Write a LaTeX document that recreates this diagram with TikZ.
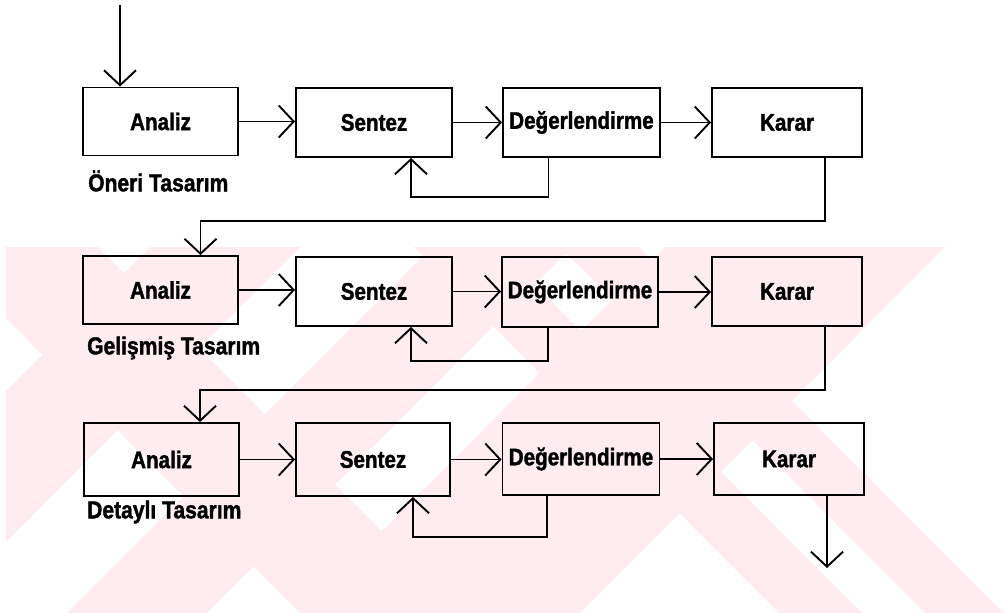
\documentclass[tikz,border=0pt]{standalone}
\usepackage{fontspec}
\setmainfont{Liberation Sans}
\newfontfamily\dfont{Liberation Sans}[UprightFont={* Bold}, FakeStretch=0.86, FakeBold=1.5]
\usetikzlibrary{arrows.meta,calc}
\definecolor{wm}{RGB}{254,236,240}
\begin{document}
\begin{tikzpicture}[x=1pt,y=-1pt,
  box/.style={draw, line width=1.9pt, inner sep=0pt, font=\dfont\fontsize{24}{26}\selectfont, minimum width=155pt, minimum height=69pt},
  arr/.style={line width=1.8pt, -{Straight Barb[length=15pt,width=32pt,line width=1.9pt]}},
  lbl/.style={anchor=west, inner sep=0pt, font=\dfont\fontsize{24.5}{26}\selectfont},
  band/.style={fill=wm}]
\useasboundingbox (0,0) rectangle (1004,613);
% watermark
\begin{scope}
\clip (6,247) rectangle (1004,613);
\fill[band] (-65,247) -- (98,247) -- (463,613) -- (300,613) -- cycle;
\fill[band] (150,247) -- (300,247) -- (-65,613) -- (-215,613) -- cycle;
\fill[band] (432,247) -- (572,247) -- (207,613) -- (67,613) -- cycle;
\fill[band] (665,247) -- (945,247) -- (580,613) -- (300,613) -- cycle;
\fill[band] (414,247) -- (497,247) -- (862,613) -- (779,613) -- cycle;
\fill[band] (560,247) -- (639,247) -- (1004,613) -- (925,613) -- cycle;
\end{scope}
% row 1
\node[box, minimum width=155pt, minimum height=68pt] (a1) at (160.5,121.5) {Analiz};
\node[box, minimum width=156pt] (s1) at (374,122.5) {Sentez};
\node[box, minimum width=157pt] (d1) at (581.5,122.5) {Değerlendirme};
\node[box, minimum width=150pt] (k1) at (787,122.5) {Karar};
% row 2
\node[box, minimum width=155pt, minimum height=68pt] (a2) at (160.5,290) {Analiz};
\node[box, minimum width=156pt] (s2) at (374,291.5) {Sentez};
\node[box, minimum width=156pt, minimum height=70pt] (d2) at (580,292) {Değerlendirme};
\node[box, minimum width=150pt] (k2) at (787,291.5) {Karar};
% row 3
\node[box, minimum width=155pt, minimum height=73pt] (a3) at (161.5,459.5) {Analiz};
\node[box, minimum width=154pt, minimum height=73pt] (s3) at (373,459.5) {Sentez};
\node[box, minimum width=157pt, minimum height=72pt] (d3) at (581,459) {Değerlendirme};
\node[box, minimum width=150pt, minimum height=72pt] (k3) at (789,459) {Karar};
% labels
\node[lbl] (l1) at (88,181) {Öneri Tasarım};
\node[lbl] (l2) at (87,348) {Gelişmiş Tasarım};
\node[lbl] (l3) at (87,512) {Detaylı Tasarım};
% in / out
\coordinate (in) at (120,5);
\coordinate (out) at (827,568);
\draw[arr] (in) -- (in |- a1.north);
\draw[arr] (k3.south -| out) -- (out);
% horizontal flows
\foreach \r in {1,2,3}{
  \draw[arr] (a\r.east) -- (s\r.west |- a\r.east);
  \draw[arr] (s\r.east) -- (d\r.west |- s\r.east);
  \draw[arr] (d\r.east) -- (k\r.west |- d\r.east);
}
% feedback loops
\draw[arr] ([xshift=-33pt]d1.south) -- ++(0,39) -| ([xshift=37pt]s1.south);
\draw[arr] ([xshift=-32pt]d2.south) -- ++(0,33) -| ([xshift=37pt]s2.south);
\draw[arr] ([xshift=-34pt]d3.south) -- ++(0,41) -| ([xshift=40pt]s3.south);
% to next stage
\draw[arr] ([xshift=38pt]k1.south) -- ++(0,63) -| ([xshift=40pt]a2.north);
\draw[arr] ([xshift=38pt]k2.south) -- ++(0,63) -| ([xshift=38.5pt]a3.north);
\end{tikzpicture}
\end{document}
